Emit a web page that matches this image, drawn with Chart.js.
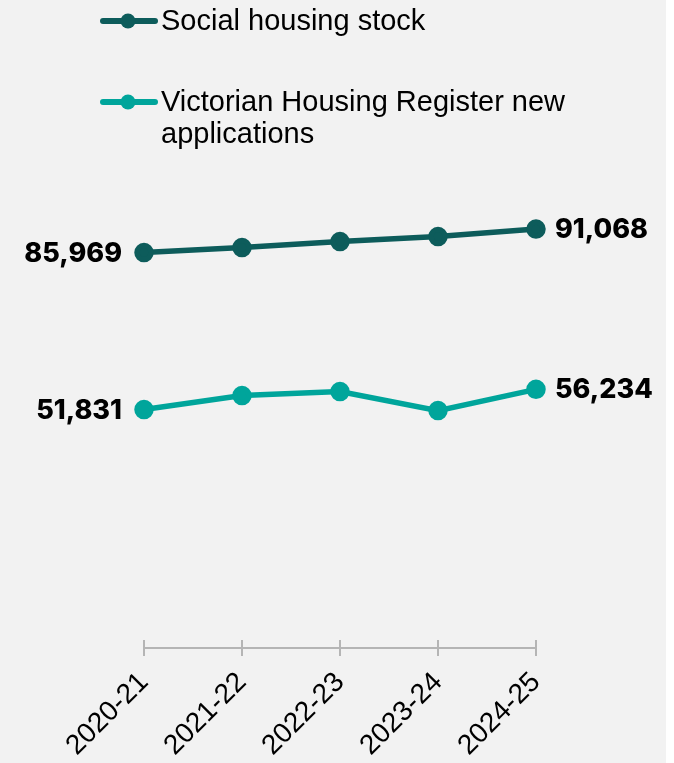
<!DOCTYPE html>
<html>
<head>
<meta charset="utf-8">
<script src="https://cdn.jsdelivr.net/npm/chart.js@4.4.1/dist/chart.umd.min.js"></script>
<style>
    body { margin: 0; background: #ffffff; }
    #wrap { width: 666px; height: 763px; background: #f2f2f2; }
</style>
</head>
<body>
<div id="wrap"><canvas id="housingChart" width="666" height="763"></canvas></div>
<script>
const years = ['2020-21', '2021-22', '2022-23', '2023-24', '2024-25'];
const socialStock = [85969, 87060, 88360, 89450, 91068];
const newApplications = [51831, 54870, 55740, 51610, 56234];
const seriesNames = ['Social housing stock', ['Victorian Housing Register new', 'applications']];
const seriesColors = ['#0d5c5b', '#00a59b'];

const axisGrey = '#b5b5b5';

// numbers at the first and last point of each line
const endLabels = {
    id: 'endLabels',
    afterDatasetsDraw(chart) {
        const ctx = chart.ctx;
        ctx.save();
        ctx.font = '800 27px Inter';
        ctx.fillStyle = '#000000';
        ctx.textBaseline = 'middle';
        chart.data.datasets.forEach(function (ds, i) {
            const pts = chart.getDatasetMeta(i).data;
            const first = pts[0];
            const last = pts[pts.length - 1];
            ctx.textAlign = 'right';
            ctx.fillText(ds.data[0].toLocaleString('en-US'), first.x - 22, first.y + 1);
            ctx.textAlign = 'left';
            ctx.fillText(ds.data[ds.data.length - 1].toLocaleString('en-US'), last.x + 19, last.y + 1);
        });
        ctx.restore();
    }
};

// tick marks reach above the axis line too
const upTicks = {
    id: 'upTicks',
    afterDraw(chart) {
        const ctx = chart.ctx;
        const x = chart.scales.x;
        ctx.save();
        ctx.strokeStyle = axisGrey;
        ctx.lineWidth = 2;
        x.ticks.forEach(function (t, i) {
            const px = x.getPixelForTick(i);
            ctx.beginPath();
            ctx.moveTo(px, x.top);
            ctx.lineTo(px, x.top - 8);
            ctx.stroke();
        });
        ctx.restore();
    }
};

// legend: line with a dot, text on the right
const lineLegend = {
    id: 'lineLegend',
    afterDraw(chart) {
        const ctx = chart.ctx;
        const rows = [21, 102];
        ctx.save();
        chart.data.datasets.forEach(function (ds, i) {
            const y = rows[i];
            ctx.strokeStyle = ds.borderColor;
            ctx.lineWidth = 6;
            ctx.lineCap = 'round';
            ctx.beginPath();
            ctx.moveTo(103, y);
            ctx.lineTo(155, y);
            ctx.stroke();
            ctx.fillStyle = ds.borderColor;
            ctx.beginPath();
            ctx.arc(128, y, 7.5, 0, Math.PI * 2);
            ctx.fill();
            ctx.fillStyle = '#000000';
            ctx.font = '29px "Liberation Sans"';
            ctx.textAlign = 'left';
            ctx.textBaseline = 'middle';
            const lines = Array.isArray(ds.label) ? ds.label : [ds.label];
            lines.forEach(function (line, j) {
                ctx.fillText(line, 161, y + 1 + j * 32);
            });
        });
        ctx.restore();
    }
};

const config = {
    type: 'line',
    data: {
        labels: years,
        datasets: [{
            label: seriesNames[0],
            data: socialStock,
            borderColor: seriesColors[0],
            backgroundColor: seriesColors[0],
            borderWidth: 5.5,
            pointRadius: 7,
            pointHoverRadius: 7,
            clip: false
        }, {
            label: seriesNames[1],
            data: newApplications,
            borderColor: seriesColors[1],
            backgroundColor: seriesColors[1],
            borderWidth: 5.5,
            pointRadius: 7,
            pointHoverRadius: 7,
            clip: false
        }]
    },
    options: {
        responsive: false,
        animation: false,
        layout: {
            padding: { top: 188, left: 144, right: 130, bottom: 0 }
        },
        scales: {
            y: {
                display: false,
                min: 0,
                max: 100000
            },
            x: {
                offset: false,
                afterFit: function (scale) { scale.height = 115; },
                grid: {
                    drawOnChartArea: false,
                    color: axisGrey,
                    lineWidth: 2,
                    tickLength: 8
                },
                border: {
                    display: true,
                    color: axisGrey,
                    width: 2
                },
                ticks: {
                    color: '#000000',
                    maxRotation: 45,
                    minRotation: 45,
                    padding: 10,
                    font: { family: '"Liberation Sans"', size: 28 }
                }
            }
        },
        plugins: {
            legend: { display: false },
            tooltip: { enabled: false }
        }
    },
    plugins: [endLabels, upTicks, lineLegend]
};

const context = document.getElementById('housingChart').getContext('2d');
const lineChart = new Chart(context, config);
</script>
</body>
</html>
